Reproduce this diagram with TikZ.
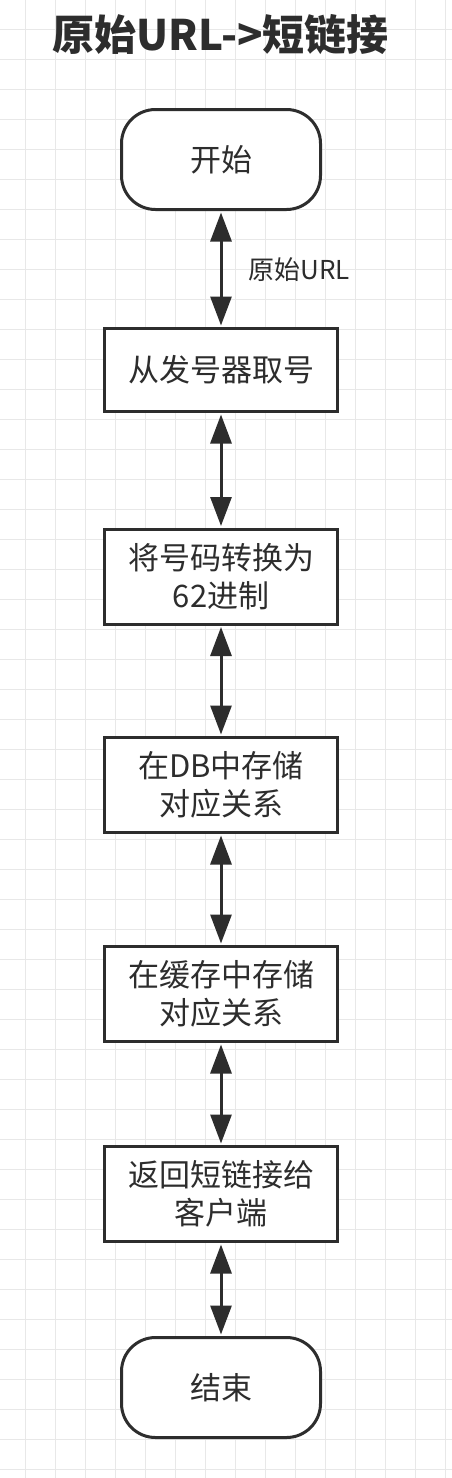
\documentclass[tikz,border=0pt]{standalone}
\usepackage{fontspec}
\setmainfont{Noto Sans CJK SC}
\usetikzlibrary{arrows.meta, positioning}
\definecolor{flowdark}{RGB}{45,45,45}
\definecolor{gridgray}{RGB}{232,232,232}

\begin{document}
\begin{tikzpicture}[x=1pt, y=-1pt,
    terminal/.style={draw=flowdark, fill=white, line width=3pt, rounded corners=34pt,
        minimum width=199pt, minimum height=100pt, text=flowdark,
        font=\fontsize{31}{38}\selectfont},
    stepbox/.style={draw=flowdark, fill=white, line width=3pt, align=center,
        minimum width=233pt, minimum height=95pt, text=flowdark,
        font=\fontsize{31}{38}\selectfont},
    link/.style={draw=flowdark, line width=3pt,
        {Triangle[width=21pt,length=29pt]}-{Triangle[width=21pt,length=29pt]},
        shorten <=1.5pt, shorten >=1.5pt}]
    % background and grid
    \fill[white] (0,0) rectangle (452,1478);
    \useasboundingbox (0,0) rectangle (452,1478);
    \foreach \gx in {25,55,...,445}
        \draw[gridgray, line width=1pt] (\gx,0) -- (\gx,1478);
    \foreach \gy in {29,59,...,1469}
        \draw[gridgray, line width=1pt] (0,\gy) -- (452,\gy);

    % title
    \node[text=flowdark, font=\fontsize{42}{50}\selectfont\bfseries] (title) at (220.5,35) {原始URL->短链接};

    % steps
    \node[terminal] (start) at (221,159.5) {开始};
    \node[stepbox, minimum height=83pt] (fetch) at (221,370) {从发号器取号};
    \node[stepbox] (convert) at (221,576.5) {将号码转换为\\62进制};
    \node[stepbox] (dbstore) at (221,785) {在DB中存储\\对应关系};
    \node[stepbox] (cachestore) at (221,994) {在缓存中存储\\对应关系};
    \node[stepbox] (reply) at (221,1194) {返回短链接给\\客户端};
    \node[terminal] (finish) at (221,1387.5) {结束};

    % links
    \draw[link] (start) -- (fetch);
    \node[anchor=west, text=flowdark, font=\fontsize{26}{30}\selectfont] (urllabel) at (245,270) {原始URL};
    \draw[link] (fetch) -- (convert);
    \draw[link] (convert) -- (dbstore);
    \draw[link] (dbstore) -- (cachestore);
    \draw[link] (cachestore) -- (reply);
    \draw[link] (reply) -- (finish);
\end{tikzpicture}
\end{document}
